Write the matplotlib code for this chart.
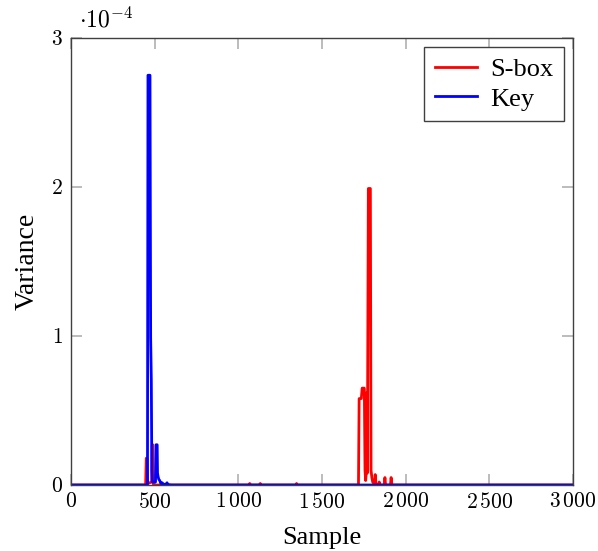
import matplotlib.pyplot as plt
from matplotlib.ticker import FuncFormatter

plt.rcParams['mathtext.fontset'] = 'cm'
plt.rcParams['font.family'] = ['Liberation Serif', 'DejaVu Serif']

# S-box variance trace (sample, variance in 1e-4)
sbox_samples = [0, 446, 450, 454, 458, 482, 485, 489, 493, 1065, 1068, 1071,
                1128, 1131, 1134, 1345, 1348, 1351, 1718, 1722, 1735, 1740, 1753,
                1757, 1761, 1765, 1768, 1771, 1777, 1789, 1793, 1798, 1803, 1810,
                1815, 1818, 1822, 1838, 1842, 1846, 1872, 1876, 1880, 1909, 1913,
                1918, 3000]
sbox_values = [0, 0, 0.18, 0.18, 0.01, 0.02, 0.27, 0.27, 0, 0, 0.01, 0,
               0, 0.01, 0, 0, 0.01, 0, 0, 0.58, 0.58, 0.65, 0.65,
               0.1, 0.03, 0.1, 0.62, 0.08, 1.99, 1.99, 0.1, 0.05, 0.02, 0.01,
               0.02, 0.07, 0.01, 0, 0.02, 0, 0, 0.05, 0, 0, 0.05,
               0, 0]

# Key variance trace (sample, variance in 1e-4)
key_samples = [0, 457, 460, 472, 476, 480, 483, 486, 505, 508, 515, 517,
               520, 524, 530, 537, 545, 552, 570, 574, 578, 600, 3000]
key_values = [0, 0, 2.75, 2.75, 0.99, 0.7, 0.1, 0.02, 0.02, 0.27, 0.27, 0.08,
              0.06, 0.04, 0.03, 0.01, 0.015, 0.005, 0.005, 0.015, 0.003, 0, 0]

x_ticks = [0, 500, 1000, 1500, 2000, 2500, 3000]
y_ticks = [0, 1, 2, 3]


def fmt_x(v, pos):
    v = int(v)
    if v >= 1000:
        return r'$%d\,%03d$' % (v // 1000, v % 1000)
    return r'$%d$' % v


fig = plt.figure(figsize=(5.98, 5.51), dpi=100)
ax = fig.add_axes([71 / 598, 1 - 485 / 551, 502 / 598, 447 / 551])

ax.plot(sbox_samples, sbox_values, color=(1, 0, 0), lw=2.0, label='S-box')
ax.plot(key_samples, key_values, color=(0, 0, 1), lw=2.0, label='Key')

ax.set_xlim(0, 3000)
ax.set_ylim(0, 3)
ax.set_xticks(x_ticks)
ax.set_yticks(y_ticks)
ax.xaxis.set_major_formatter(FuncFormatter(fmt_x))
ax.yaxis.set_major_formatter(FuncFormatter(lambda v, p: r'$%d$' % v))
ax.tick_params(direction='in', length=8, width=1.2, color='#b0b0b0',
               top=True, right=True, labelsize=15.5, pad=6)
for s in ax.spines.values():
    s.set_color('#404040')
    s.set_linewidth(1.0)

ax.set_xlabel('Sample', fontsize=19, labelpad=10)
ax.set_ylabel('Variance', fontsize=20, labelpad=8)
ax.text(0.015, 1.012, r'$\cdot 10^{-4}$', transform=ax.transAxes,
        fontsize=17, va='bottom', ha='left')

leg = ax.legend(loc='upper right', fontsize=19, fancybox=False, framealpha=1,
                edgecolor='#404040', handlelength=1.6, borderpad=0.4,
                labelspacing=0.22, handletextpad=0.5, borderaxespad=0.35)
leg.get_frame().set_linewidth(1.0)

fig.savefig('out.png', dpi=100)
